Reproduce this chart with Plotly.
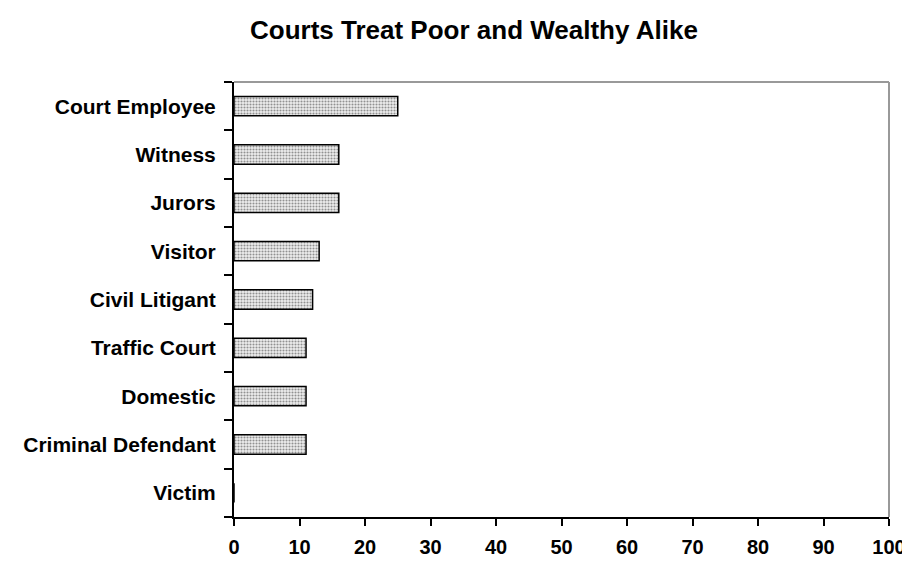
import plotly.graph_objects as go

categories = ["Court Employee", "Witness", "Jurors", "Visitor", "Civil Litigant",
              "Traffic Court", "Domestic", "Criminal Defendant", "Victim"]
values = [25, 16, 16, 13, 12, 11, 11, 11, 0]
x_ticks = [0, 10, 20, 30, 40, 50, 60, 70, 80, 90, 100]
title_text = "Courts Treat Poor and Wealthy Alike"

FONT = "Liberation Sans"

fig = go.Figure()
fig.add_trace(go.Bar(
    x=values, y=categories, orientation="h", width=0.4,
    marker=dict(
        color="#e6e6e6",
        line=dict(color="black", width=1.5),
        pattern=dict(shape=".", size=3, solidity=0.4, fgcolor="#333333", bgcolor="#eeeeee"),
    ),
    showlegend=False,
))

fig.update_layout(
    width=910, height=562,
    margin=dict(l=226, r=17, t=74, b=43),
    paper_bgcolor="white", plot_bgcolor="white",
    title=dict(text=title_text, x=0.512, xanchor="center", y=0.961, yanchor="middle",
               font=dict(family=FONT, size=26, color="black", weight="bold")),
    font=dict(family=FONT, color="black"),
    bargap=0.6,
)
fig.update_xaxes(
    range=[0, 100], tickvals=x_ticks, ticktext=[str(v) for v in x_ticks],
    showgrid=False, zeroline=False, showline=True, linecolor="black", linewidth=2,
    ticks="outside", ticklen=7, tickwidth=2, tickcolor="black",
    tickfont=dict(family=FONT, size=20, weight="bold", color="black"),
    ticklabelstandoff=4,
)
fig.update_yaxes(
    categoryorder="array", categoryarray=categories[::-1],
    showgrid=False, zeroline=False, showline=True, linecolor="black", linewidth=2,
    ticks="outside", ticklen=8, tickwidth=2, tickcolor="black", tickson="boundaries",
    tickfont=dict(family=FONT, size=21, weight="bold", color="black"),
    ticklabelstandoff=12,
)
# gray frame top and right
fig.add_shape(type="line", xref="paper", yref="paper", x0=0, x1=1, y0=1, y1=1,
              line=dict(color="#999999", width=2))
fig.add_shape(type="line", xref="paper", yref="paper", x0=1, x1=1, y0=0, y1=1,
              line=dict(color="#999999", width=2))

fig.write_html("out.html")
